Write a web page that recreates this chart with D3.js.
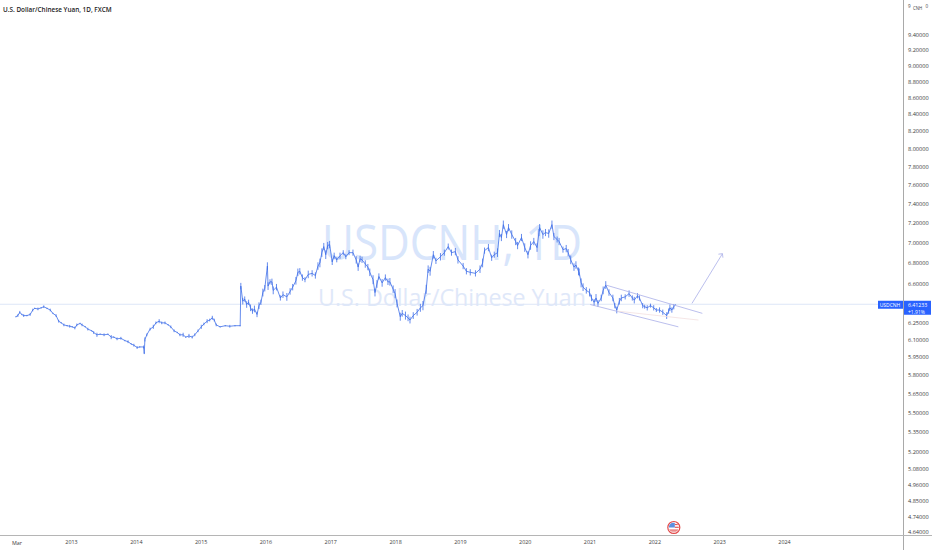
<!DOCTYPE html>
<html><head><meta charset="utf-8">
<script src="https://cdn.jsdelivr.net/npm/d3@7"></script>
<style>html,body{margin:0;padding:0;background:#fff;overflow:hidden}svg{display:block}text{font-family:"Open Sans",sans-serif}</style>
</head><body><svg id="c" width="932" height="550"></svg>
<script>
const title="U.S. Dollar/Chinese Yuan, 1D, FXCM";
const watermark="USDCNH, 1D";
const watermarkSub="U.S. Dollar/Chinese Yuan";
const priceTicks=[9.4,9.2,9.0,8.8,8.6,8.4,8.2,8.0,7.8,7.6,7.4,7.2,7.0,6.8,6.6,6.25,6.1,5.95,5.8,5.65,5.5,5.35,5.2,5.08,4.96,4.85,4.74,4.64];
const yearTicks=[2013,2014,2015,2016,2017,2018,2019,2020,2021,2022,2023,2024];
const startTick={year:2012.16,label:"Mar"};
const lastPrice=6.41233;
const lastChange="+1.91%";
const years=[2012.15,2012.18,2012.21,2012.24,2012.27,2012.32,2012.37,2012.41,2012.44,2012.49,2012.54,2012.58,2012.63,2012.68,2012.72,2012.77,2012.81,2012.85,2012.89,2012.94,2012.98,2013.02,2013.06,2013.09,2013.14,2013.17,2013.22,2013.26,2013.32,2013.35,2013.40,2013.45,2013.51,2013.57,2013.62,2013.66,2013.71,2013.77,2013.83,2013.88,2013.93,2013.97,2014.02,2014.06,2014.12,2014.13,2014.14,2014.17,2014.22,2014.27,2014.31,2014.36,2014.40,2014.45,2014.50,2014.54,2014.59,2014.64,2014.68,2014.73,2014.77,2014.82,2014.87,2014.91,2014.96,2015.01,2015.05,2015.10,2015.14,2015.18,2015.21,2015.24,2015.30,2015.38,2015.45,2015.53,2015.61,
2015.62,2015.65,2015.68,2015.71,2015.74,2015.77,2015.80,2015.83,2015.87,2015.90,2015.93,2015.96,2015.99,2016.03,2016.04,2016.07,2016.10,2016.12,2016.17,2016.23,2016.27,2016.33,2016.38,2016.42,2016.47,2016.50,2016.53,2016.57,2016.61,2016.66,2016.72,2016.77,2016.81,2016.84,2016.87,2016.90,2016.93,2016.96,2016.99,2017.03,2017.06,2017.10,2017.15,2017.20,2017.24,2017.29,2017.35,2017.40,2017.43,2017.46,2017.49,2017.54,2017.58,2017.61,2017.66,2017.69,2017.72,2017.75,2017.80,2017.85,2017.89,2017.92,2017.97,2018.00,2018.03,2018.08,2018.11,2018.16,2018.20,2018.23,2018.28,2018.34,2018.39,2018.43,2018.48,2018.51,2018.54,2018.59,2018.63,2018.70,2018.76,2018.82,2018.87,2018.93,2018.97,2019.05,2019.10,2019.16,2019.24,2019.31,2019.35,2019.38,2019.44,2019.49,2019.53,2019.58,2019.61,2019.64,2019.67,2019.72,2019.75,2019.80,2019.86,2019.89,2019.95,2020.00,2020.05,2020.09,2020.14,2020.19,2020.22,2020.23,2020.28,2020.32,2020.37,2020.42,2020.45,2020.50,2020.53,2020.59,2020.64,2020.67,2020.71,2020.76,2020.79,2020.83,2020.84,2020.87,2020.90,2020.95,2021.00,2021.03,2021.07,2021.10,2021.13,2021.18,2021.21,2021.25,2021.30,2021.36,2021.39,2021.42,2021.46,2021.49,2021.55,2021.61,2021.66,2021.69,2021.74,2021.77,2021.82,2021.85,2021.89,2021.94,2021.99,2022.03,2022.08,2022.13,2022.19,2022.22,2022.24,2022.27,2022.30,2022.33];
const closes=[6.30,6.31,6.34,6.32,6.31,6.31,6.32,6.36,6.375,6.37,6.38,6.39,6.375,6.36,6.33,6.31,6.26,6.245,6.227,6.22,6.215,6.21,6.20,6.227,6.24,6.227,6.21,6.19,6.175,6.16,6.14,6.145,6.14,6.145,6.12,6.12,6.105,6.11,6.09,6.08,6.06,6.05,6.03,6.035,6.035,5.98,6.10,6.14,6.19,6.21,6.245,6.26,6.245,6.245,6.227,6.21,6.175,6.16,6.14,6.14,6.12,6.13,6.12,6.14,6.175,6.21,6.235,6.26,6.27,6.29,6.27,6.227,6.21,6.22,6.215,6.22,6.22,
6.58,6.44,6.46,6.41,6.43,6.38,6.35,6.37,6.32,6.40,6.43,6.52,6.56,6.77,6.58,6.62,6.62,6.54,6.57,6.47,6.50,6.48,6.53,6.57,6.63,6.71,6.72,6.66,6.64,6.69,6.70,6.68,6.77,6.80,6.90,6.96,6.88,6.97,6.98,6.81,6.87,6.83,6.87,6.90,6.86,6.90,6.90,6.83,6.76,6.84,6.83,6.79,6.76,6.71,6.64,6.52,6.60,6.67,6.61,6.66,6.62,6.62,6.55,6.51,6.42,6.30,6.33,6.31,6.29,6.27,6.31,6.34,6.38,6.40,6.55,6.74,6.72,6.88,6.82,6.86,6.90,6.96,6.90,6.91,6.83,6.77,6.72,6.71,6.70,6.74,6.80,6.92,6.95,6.85,6.88,6.90,7.09,7.05,7.18,7.08,7.15,7.08,7.01,6.97,7.05,6.95,6.88,6.97,7.01,6.95,7.10,7.15,7.08,7.10,7.09,7.18,7.06,7.03,7.01,6.93,6.94,6.90,6.83,6.76,6.78,6.72,6.71,6.61,6.57,6.54,6.52,6.47,6.43,6.47,6.42,6.47,6.54,6.59,6.52,6.47,6.40,6.36,6.44,6.47,6.48,6.51,6.47,6.45,6.49,6.47,6.40,6.39,6.38,6.40,6.38,6.36,6.36,6.34,6.31,6.35,6.38,6.36,6.39,6.412];
// estimated daily range around each close, same order as closes
const ranges=[.01,.02,.02,.01,.02,.01,.02,.02,.01,.02,.01,.02,.01,.02,.01,.02,.02,.01,.02,.01,.02,.01,.02,.02,.01,.02,.01,.02,.01,.02,.03,.01,.02,.01,.03,.01,.02,.02,.01,.02,.01,.02,.02,.01,.02,.01,.03,.02,.02,.03,.02,.03,.02,.02,.01,.02,.02,.01,.02,.03,.01,.03,.02,.02,.02,.03,.02,.03,.02,.03,.02,.02,.01,.01,.02,.01,.01,
.05,.05,.04,.05,.04,.05,.04,.05,.04,.05,.04,.06,.05,.06,.06,.04,.05,.06,.05,.04,.05,.06,.05,.05,.06,.06,.05,.05,.04,.06,.05,.05,.06,.07,.07,.06,.07,.06,.06,.05,.05,.04,.05,.04,.04,.04,.05,.06,.06,.05,.05,.06,.05,.06,.07,.06,.06,.05,.06,.05,.05,.06,.06,.07,.06,.06,.05,.06,.05,.05,.05,.05,.06,.07,.07,.06,.07,.06,.05,.06,.05,.05,.05,.06,.06,.05,.05,.05,.05,.06,.07,.05,.06,.05,.05,.07,.06,.06,.07,.06,.06,.07,.06,.06,.06,.07,.06,.07,.06,.07,.06,.06,.07,.06,.07,.07,.06,.05,.06,.05,.06,.06,.07,.06,.06,.06,.06,.07,.06,.05,.06,.05,.05,.06,.05,.05,.06,.06,.05,.05,.04,.05,.05,.05,.04,.05,.04,.05,.04,.04,.04,.03,.04,.03,.04,.03,.04,.04,.05,.04,.05,.04,.04];
const channelUpperYears=[2021.25,2022.74], channelUpperPrices=[6.59,6.33];
const channelLowerYears=[2021.01,2022.37], channelLowerPrices=[6.41,6.21];
const channelMidYears=[2021.43,2022.68], channelMidPrices=[6.35,6.27];
const arrowYears=[2022.58,2023.05], arrowPrices=[6.42,6.89];
const eventYear=2022.3;

const W=932,H=550,axisX=903,axisY=535;
const blue="#3f6fe8";
const svg=d3.select("#c");
const x=d3.scaleLinear().domain([2013,2024]).range([71,784]);
const y=d3.scaleLog().domain([4.64,9.4]).range([532,35]);

svg.append("text").attr("x",452).attr("y",260).attr("text-anchor","middle").attr("font-size",50).attr("textLength",260).attr("lengthAdjust","spacingAndGlyphs").attr("fill","#d8e5fb").text(watermark);
svg.append("text").attr("x",452).attr("y",306).attr("text-anchor","middle").attr("font-size",24).attr("textLength",268).attr("lengthAdjust","spacingAndGlyphs").attr("fill","#dfe8f9").text(watermarkSub);

svg.append("line").attr("x1",0).attr("x2",axisX).attr("y1",y(lastPrice)).attr("y2",y(lastPrice)).attr("stroke","#dde6f7").attr("stroke-width",1);

const line=d3.line().x((d,i)=>x(years[i])).y(d=>y(d));
svg.append("path").datum(closes).attr("d",line).attr("fill","none").attr("stroke",blue).attr("stroke-width",0.8);
svg.append("g").selectAll("line").data(closes).join("line")
  .attr("x1",(d,i)=>x(years[i])).attr("x2",(d,i)=>x(years[i]))
  .attr("y1",(d,i)=>y(d+ranges[i]*0.6)).attr("y2",(d,i)=>y(d-ranges[i]*0.6))
  .attr("stroke",blue).attr("stroke-width",0.8);

const seg=(xs,ps,c,w)=>svg.append("path").datum(ps).attr("d",d3.line().x((d,i)=>x(xs[i])).y(d=>y(d))).attr("fill","none").attr("stroke",c).attr("stroke-width",w);
seg(channelUpperYears,channelUpperPrices,"#a9aee8",0.8);
seg(channelLowerYears,channelLowerPrices,"#a9aee8",0.8);
seg(channelMidYears,channelMidPrices,"#f3dfdf",0.8);
seg(arrowYears,arrowPrices,"#a9aee8",0.8);
const ax=x(arrowYears[1]),ay=y(arrowPrices[1]);
svg.append("path").attr("d",d3.line()([[ax-4,ay+0.5],[ax,ay],[ax+0.5,ay+4]])).attr("fill","none").attr("stroke","#a9aee8").attr("stroke-width",0.8);

svg.append("line").attr("x1",axisX+.5).attr("x2",axisX+.5).attr("y1",0).attr("y2",H).attr("stroke","#a9a9a9");
svg.append("line").attr("x1",0).attr("x2",W).attr("y1",axisY+.5).attr("y2",axisY+.5).attr("stroke","#b5b5b5");

const yAxis=svg.append("g").attr("transform",`translate(${axisX+5},0)`).call(d3.axisRight(y).tickValues(priceTicks).tickSize(0).tickPadding(0).tickFormat(d=>d.toFixed(5)));
yAxis.select(".domain").remove();
yAxis.selectAll("text").attr("font-size",5.6).attr("fill","#3c3c3c").style("font-family",'"Open Sans",sans-serif');

const xAxis=svg.append("g").attr("transform",`translate(0,${axisY+5})`).call(d3.axisBottom(x).tickValues(yearTicks).tickSize(0).tickPadding(0).tickFormat(d3.format("d")));
xAxis.select(".domain").remove();
xAxis.selectAll("text").attr("font-size",5.4).attr("fill","#3c3c3c").style("font-family",'"Open Sans",sans-serif');
svg.append("text").attr("x",x(startTick.year)+.5).attr("y",axisY+9.5).attr("text-anchor","middle").attr("font-size",5.4).attr("fill","#3c3c3c").text(startTick.label);

svg.append("text").attr("x",3).attr("y",11.5).attr("font-size",6.4).attr("font-weight",600).attr("fill","#222").text(title);

svg.append("text").attr("x",908).attr("y",7.5).attr("font-size",4.6).attr("fill","#444").text("9");
svg.append("text").attr("x",913).attr("y",10).attr("font-size",4.4).attr("fill","#444").text("CNH");
svg.append("text").attr("x",925.5).attr("y",7.5).attr("font-size",4.6).attr("fill","#444").text("0");

const ly=y(lastPrice);
svg.append("rect").attr("x",878).attr("y",ly-3.5).attr("width",25).attr("height",8).attr("fill","#2962ff");
svg.append("text").attr("x",890).attr("y",ly+2.6).attr("text-anchor","middle").attr("font-size",5).attr("fill","#fff").text("USDCNH");
svg.append("rect").attr("x",904).attr("y",ly-3.5).attr("width",27).attr("height",14).attr("fill","#2962ff");
svg.append("text").attr("x",908).attr("y",ly+2.4).attr("font-size",5.2).attr("fill","#fff").text(lastPrice.toFixed(5));
svg.append("text").attr("x",908).attr("y",ly+9.4).attr("font-size",5).attr("fill","#fff").text(lastChange);

const ex=x(eventYear),ec=527.5;
const g=svg.append("g").attr("transform",`translate(${ex},${ec})`);
g.append("clipPath").attr("id","ic").append("circle").attr("r",5);
g.append("circle").attr("r",6).attr("fill","#fff").attr("stroke","#e34a4a").attr("stroke-width",1.2);
const f=g.append("g").attr("clip-path","url(#ic)");
f.append("rect").attr("x",-5).attr("y",-5).attr("width",10).attr("height",10).attr("fill","#fff");
f.append("rect").attr("x",-5).attr("y",-5).attr("width",6).attr("height",5).attr("fill","#5b8fe0");
f.append("rect").attr("x",1).attr("y",-3.6).attr("width",5).attr("height",1.2).attr("fill","#e05a5a");
f.append("rect").attr("x",1).attr("y",-0.8).attr("width",5).attr("height",1.2).attr("fill","#e05a5a");
f.append("rect").attr("x",-5).attr("y",2).attr("width",10).attr("height",1.2).attr("fill","#e05a5a");
f.append("rect").attr("x",-5).attr("y",4).attr("width",10).attr("height",1.2).attr("fill","#e05a5a");
</script></body></html>
